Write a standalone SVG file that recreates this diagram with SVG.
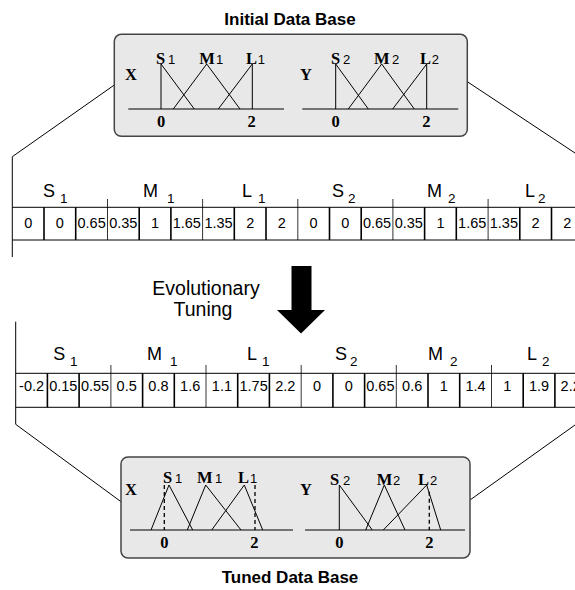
<svg xmlns="http://www.w3.org/2000/svg" width="575" height="590" viewBox="0 0 575 590">
<style>
.box{fill:#e8e8e8;stroke:#444;stroke-width:1.5}
.ln{stroke:#000;stroke-width:1;fill:none}
.dash{stroke:#000;stroke-width:1.3;stroke-dasharray:4,3;fill:none}
.tl{stroke:#000;stroke-width:1;fill:none}
.div{stroke:#000;stroke-width:1.6}
.grp{stroke:#000;stroke-width:0.8}
.title{font-family:"Liberation Sans",Arial,sans-serif;font-weight:bold;font-size:17px;text-anchor:middle}
.sb{font-family:"Liberation Serif","Times New Roman",serif;font-weight:bold;font-size:16.5px}
.sub{font-family:"Liberation Sans",Arial,sans-serif;font-size:13px}
.ax{font-family:"Liberation Serif","Times New Roman",serif;font-weight:bold;font-size:16.5px;text-anchor:middle}
.gl{font-family:"Liberation Sans",Arial,sans-serif;font-size:18px}
.gs{font-family:"Liberation Sans",Arial,sans-serif;font-size:13.5px}
.cv{font-family:"Liberation Sans",Arial,sans-serif;font-size:14.5px;text-anchor:middle}
.ev{font-family:"Liberation Sans",Arial,sans-serif;font-size:19.5px;text-anchor:middle}
</style>

<g id="connectors">
<polyline class="tl" points="114.3,85 12.3,156.7 12.3,257"/>
<line class="tl" x1="467.3" y1="81.7" x2="575" y2="153"/>
<polyline class="tl" points="15.7,321.7 15.7,424.3 121,501.7"/>
<line class="tl" x1="470" y1="500" x2="575" y2="425"/>
</g>

<text class="title" x="290" y="25">Initial Data Base</text>
<text class="title" x="290" y="583">Tuned Data Base</text>

<g id="initial-db">
<rect class="box" x="114.3" y="34.3" width="353" height="102" rx="7"/>
<text class="sb" x="125" y="80" font-size="17">X</text>
<line class="ln" x1="128.3" y1="109" x2="284" y2="109"/>
<polyline class="ln" points="161,109 161,64 194.3,109"/>
<polyline class="ln" points="173.3,109 206.7,64 240,109"/>
<polyline class="ln" points="218.3,109 252.3,64 252.3,109"/>
<text class="sb" x="156" y="64">S</text><text class="sub" x="168" y="64">1</text>
<text class="sb" x="199.3" y="64">M</text><text class="sub" x="216" y="64">1</text>
<text class="sb" x="246" y="64">L</text><text class="sub" x="257.7" y="64">1</text>
<text class="ax" x="161" y="126.7">0</text>
<text class="ax" x="251.5" y="126.7">2</text>
<text class="sb" x="300" y="80" font-size="17">Y</text>
<line class="ln" x1="302.3" y1="109" x2="458.3" y2="109"/>
<polyline class="ln" points="335.7,109 335.7,64 368.3,109"/>
<polyline class="ln" points="348.3,109 381.7,64 414.3,109"/>
<polyline class="ln" points="392.7,109 426.7,64 426.7,109"/>
<text class="sb" x="331" y="64">S</text><text class="sub" x="343" y="64">2</text>
<text class="sb" x="374" y="64">M</text><text class="sub" x="392" y="64">2</text>
<text class="sb" x="420" y="64">L</text><text class="sub" x="431.7" y="64">2</text>
<text class="ax" x="335.5" y="126.7">0</text>
<text class="ax" x="426.3" y="126.7">2</text>
</g>

<g id="table-initial">
<line class="tl" x1="12.3" y1="207.3" x2="575" y2="207.3"/>
<line class="tl" x1="12.3" y1="240" x2="575" y2="240"/>
<g class="div">
<line x1="44" y1="207.3" x2="44" y2="240"/>
<line x1="75.7" y1="207.3" x2="75.7" y2="240"/>
<line x1="139.2" y1="207.3" x2="139.2" y2="240"/>
<line x1="170.9" y1="207.3" x2="170.9" y2="240"/>
<line x1="234.3" y1="207.3" x2="234.3" y2="240"/>
<line x1="266" y1="207.3" x2="266" y2="240"/>
<line x1="329.5" y1="207.3" x2="329.5" y2="240"/>
<line x1="361.2" y1="207.3" x2="361.2" y2="240"/>
<line x1="424.6" y1="207.3" x2="424.6" y2="240"/>
<line x1="456.3" y1="207.3" x2="456.3" y2="240"/>
<line x1="519.8" y1="207.3" x2="519.8" y2="240"/>
<line x1="551.5" y1="207.3" x2="551.5" y2="240"/>
</g>
<g class="grp">
<line x1="107.5" y1="199" x2="107.5" y2="240"/>
<line x1="202.6" y1="199" x2="202.6" y2="240"/>
<line x1="297.8" y1="199" x2="297.8" y2="240"/>
<line x1="392.9" y1="199" x2="392.9" y2="240"/>
<line x1="488.1" y1="199" x2="488.1" y2="240"/>
</g>
<text class="gl" x="43" y="196.7">S</text><text class="gs" x="60" y="202.7">1</text>
<text class="gl" x="143" y="196.7">M</text><text class="gs" x="167" y="202.7">1</text>
<text class="gl" x="242" y="196.7">L</text><text class="gs" x="258" y="202.7">1</text>
<text class="gl" x="332" y="196.7">S</text><text class="gs" x="348" y="202.7">2</text>
<text class="gl" x="427" y="196.7">M</text><text class="gs" x="448" y="202.7">2</text>
<text class="gl" x="525" y="196.7">L</text><text class="gs" x="538" y="202.7">2</text>
<g class="cv">
<text x="28.2" y="227.5">0</text>
<text x="59.9" y="227.5">0</text>
<text x="91.6" y="227.5">0.65</text>
<text x="123.3" y="227.5">0.35</text>
<text x="155" y="227.5">1</text>
<text x="186.8" y="227.5">1.65</text>
<text x="218.5" y="227.5">1.35</text>
<text x="250.2" y="227.5">2</text>
<text x="281.9" y="227.5">2</text>
<text x="313.6" y="227.5">0</text>
<text x="345.3" y="227.5">0</text>
<text x="377" y="227.5">0.65</text>
<text x="408.8" y="227.5">0.35</text>
<text x="440.5" y="227.5">1</text>
<text x="472.2" y="227.5">1.65</text>
<text x="503.9" y="227.5">1.35</text>
<text x="535.6" y="227.5">2</text>
<text x="567.3" y="227.5">2</text>
</g>
</g>

<g id="tuning-arrow">
<polygon points="291.5,266 311.5,266 311.5,310 325,310 301,333.5 277,310 291.5,310" fill="#000"/>
<text class="ev" x="206" y="295">Evolutionary</text>
<text class="ev" x="203" y="316">Tuning</text>
</g>

<g id="table-tuned">
<line class="tl" x1="15.7" y1="373.3" x2="575" y2="373.3"/>
<line class="tl" x1="15.7" y1="407.3" x2="575" y2="407.3"/>
<g class="div">
<line x1="47.4" y1="373.3" x2="47.4" y2="407.3"/>
<line x1="79.1" y1="373.3" x2="79.1" y2="407.3"/>
<line x1="142.6" y1="373.3" x2="142.6" y2="407.3"/>
<line x1="174.3" y1="373.3" x2="174.3" y2="407.3"/>
<line x1="237.7" y1="373.3" x2="237.7" y2="407.3"/>
<line x1="269.4" y1="373.3" x2="269.4" y2="407.3"/>
<line x1="332.9" y1="373.3" x2="332.9" y2="407.3"/>
<line x1="364.6" y1="373.3" x2="364.6" y2="407.3"/>
<line x1="428" y1="373.3" x2="428" y2="407.3"/>
<line x1="459.7" y1="373.3" x2="459.7" y2="407.3"/>
<line x1="523.2" y1="373.3" x2="523.2" y2="407.3"/>
<line x1="554.9" y1="373.3" x2="554.9" y2="407.3"/>
</g>
<g class="grp">
<line x1="110.9" y1="365" x2="110.9" y2="407.3"/>
<line x1="206" y1="365" x2="206" y2="407.3"/>
<line x1="301.2" y1="365" x2="301.2" y2="407.3"/>
<line x1="396.3" y1="365" x2="396.3" y2="407.3"/>
<line x1="491.5" y1="365" x2="491.5" y2="407.3"/>
</g>
<text class="gl" x="53.3" y="360">S</text><text class="gs" x="70" y="366">1</text>
<text class="gl" x="147" y="360">M</text><text class="gs" x="170" y="366">1</text>
<text class="gl" x="247" y="360">L</text><text class="gs" x="262" y="366">1</text>
<text class="gl" x="335" y="360">S</text><text class="gs" x="350" y="366">2</text>
<text class="gl" x="428" y="360">M</text><text class="gs" x="450" y="366">2</text>
<text class="gl" x="527" y="360">L</text><text class="gs" x="542" y="366">2</text>
<g class="cv">
<text x="31.6" y="390.5">-0.2</text>
<text x="63.3" y="390.5">0.15</text>
<text x="95" y="390.5">0.55</text>
<text x="126.7" y="390.5">0.5</text>
<text x="158.4" y="390.5">0.8</text>
<text x="190.2" y="390.5">1.6</text>
<text x="221.9" y="390.5">1.1</text>
<text x="253.6" y="390.5">1.75</text>
<text x="285.3" y="390.5">2.2</text>
<text x="317" y="390.5">0</text>
<text x="348.7" y="390.5">0</text>
<text x="380.4" y="390.5">0.65</text>
<text x="412.2" y="390.5">0.6</text>
<text x="443.9" y="390.5">1</text>
<text x="475.6" y="390.5">1.4</text>
<text x="507.3" y="390.5">1</text>
<text x="539" y="390.5">1.9</text>
<text x="570.7" y="390.5">2.2</text>
</g>
</g>

<g id="tuned-db">
<rect class="box" x="121" y="457" width="349" height="101" rx="7"/>
<text class="sb" x="125" y="495" font-size="17">X</text>
<line class="ln" x1="130" y1="530" x2="293" y2="530"/>
<polyline class="ln" points="151,530 169,485 192.7,530"/>
<line class="dash" x1="164.3" y1="485" x2="164.3" y2="530"/>
<polyline class="ln" points="187.3,530 205.7,485 241,530"/>
<polyline class="ln" points="211.7,530 244.3,485 262.7,530"/>
<line class="dash" x1="255" y1="485" x2="255" y2="530"/>
<text class="sb" x="163" y="483">S</text><text class="sub" x="175" y="483">1</text>
<text class="sb" x="197" y="483">M</text><text class="sub" x="215" y="483">1</text>
<text class="sb" x="238" y="483">L</text><text class="sub" x="250" y="483">1</text>
<text class="ax" x="164.3" y="548">0</text>
<text class="ax" x="254.3" y="548">2</text>
<text class="sb" x="300" y="495" font-size="17">Y</text>
<line class="ln" x1="305" y1="530" x2="465" y2="530"/>
<polyline class="ln" points="339.3,530 339.3,485 372.3,530"/>
<polyline class="ln" points="365.7,530 384.3,485 405,530"/>
<polyline class="ln" points="383.3,530 426.7,485 440.7,530"/>
<line class="dash" x1="429.3" y1="491.7" x2="429.3" y2="530"/>
<text class="sb" x="330" y="485">S</text><text class="sub" x="343" y="485">2</text>
<text class="sb" x="376.7" y="485">M</text><text class="sub" x="393" y="485">2</text>
<text class="sb" x="418" y="485">L</text><text class="sub" x="430" y="485">2</text>
<text class="ax" x="339.3" y="548">0</text>
<text class="ax" x="429.3" y="548">2</text>
</g>
</svg>
